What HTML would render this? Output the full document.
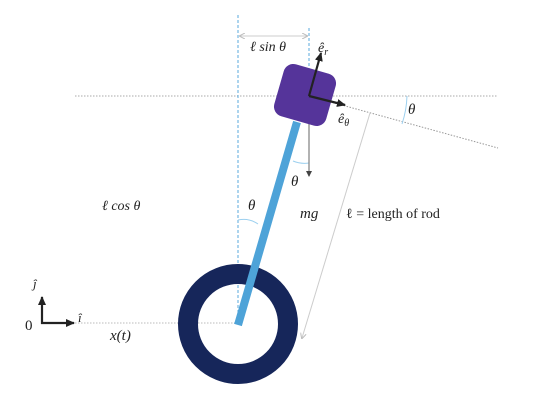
<!DOCTYPE html>
<html><head><meta charset="utf-8"><style>
body{margin:0;background:#fff}
svg{display:block}
text{font-family:"Liberation Serif",serif;fill:#222}
.it{font-style:italic}
</style></head><body>
<svg width="539" height="405" viewBox="0 0 539 405">
<defs>
<marker id="ah" markerUnits="userSpaceOnUse" markerWidth="9" markerHeight="8" refX="8" refY="4" orient="auto"><path d="M0,0 L9,4 L0,8 z" fill="#222"/></marker>
<marker id="ahs" markerUnits="userSpaceOnUse" markerWidth="6" markerHeight="6" refX="5" refY="3" orient="auto"><path d="M0,0 L6,3 L0,6 z" fill="#444"/></marker>
<marker id="ag" markerUnits="userSpaceOnUse" markerWidth="6" markerHeight="6" refX="5" refY="3" orient="auto"><path d="M0,0 L6,3 L0,6" fill="none" stroke="#bbb"/></marker>
<marker id="ag2" markerUnits="userSpaceOnUse" markerWidth="6" markerHeight="6" refX="1" refY="3" orient="auto"><path d="M6,0 L0,3 L6,6" fill="none" stroke="#bbb"/></marker>
</defs>
<line x1="75" y1="96" x2="498" y2="96" stroke="#aaa" stroke-dasharray="1.5,1.5"/>
<line x1="309" y1="96" x2="498" y2="148" stroke="#999" stroke-dasharray="1.5,1.5"/>
<line x1="75" y1="323" x2="240" y2="323" stroke="#bbb" stroke-dasharray="1.5,1.5"/>
<line x1="238" y1="15" x2="238" y2="325" stroke="#5aa8dc" stroke-dasharray="3,2"/>
<line x1="309" y1="28" x2="309" y2="100" stroke="#5aa8dc" stroke-dasharray="3,2"/>
<line x1="240" y1="36" x2="307" y2="36" stroke="#ccc" marker-end="url(#ag)" marker-start="url(#ag2)"/>
<line x1="370" y1="113" x2="302" y2="338" stroke="#ccc" marker-end="url(#ag)"/>
<path d="M407,96 A98,98 0 0 1 402,124" fill="none" stroke="#9cd0ef"/>
<path d="M293,161 A30,30 0 0 0 309,163" fill="none" stroke="#9cd0ef"/>
<path d="M238,220 A25,25 0 0 1 258,224" fill="none" stroke="#9cd0ef"/>
<circle cx="238" cy="324" r="50" fill="none" stroke="#16265a" stroke-width="20"/>
<line x1="238" y1="325" x2="297" y2="122" stroke="#4ea3d8" stroke-width="8"/>
<line x1="309" y1="96" x2="309" y2="176" stroke="#888" stroke-width="1.3" marker-end="url(#ahs)"/>
<rect x="278" y="68" width="54" height="54" rx="10" fill="#55349a" transform="rotate(16 305 95)"/>
<line x1="309" y1="96" x2="321" y2="53" stroke="#222" stroke-width="2.2" marker-end="url(#ah)"/>
<line x1="309" y1="96" x2="345" y2="105" stroke="#222" stroke-width="2.2" marker-end="url(#ah)"/>
<line x1="42" y1="324" x2="42" y2="297" stroke="#222" stroke-width="2.2" marker-end="url(#ah)"/>
<line x1="41" y1="323" x2="74" y2="323" stroke="#222" stroke-width="2.2" marker-end="url(#ah)"/>
<text x="250" y="51" font-size="14" class="it">ℓ sin θ</text>
<text x="318" y="52" font-size="14" class="it">ê<tspan font-size="10" dy="3">r</tspan></text>
<text x="338" y="123" font-size="14" class="it">ê<tspan font-size="10" dy="3">θ</tspan></text>
<text x="408" y="114" font-size="15" class="it">θ</text>
<text x="291" y="186" font-size="15" class="it">θ</text>
<text x="248" y="210" font-size="15" class="it">θ</text>
<text x="300" y="218" font-size="15" class="it">mg</text>
<text x="346" y="218" font-size="14">ℓ = length of rod</text>
<text x="102" y="210" font-size="14" class="it">ℓ cos θ</text>
<text x="110" y="340" font-size="15" class="it">x(t)</text>
<text x="25" y="330" font-size="15">0</text>
<text x="33" y="288" font-size="13" class="it">ĵ</text>
<text x="78" y="322" font-size="13" class="it">î</text>
</svg>
</body></html>
